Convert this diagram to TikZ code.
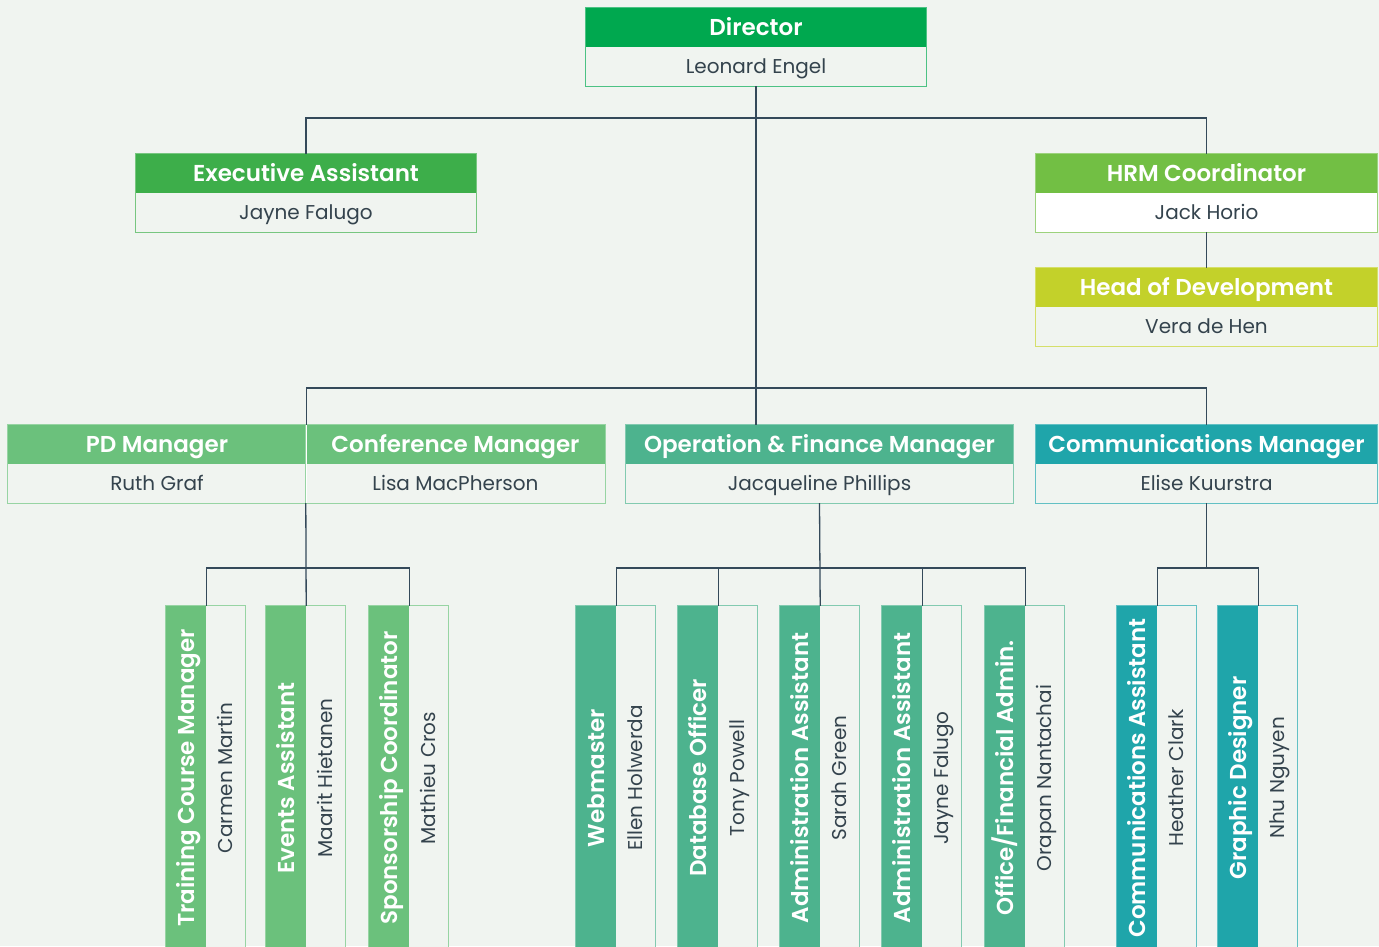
\documentclass[tikz,border=0pt]{standalone}
\usepackage{fontspec}
\setmainfont{Poppins}[BoldFont={Poppins SemiBold}]
\definecolor{bg}{HTML}{F0F4F0}
\definecolor{cdir}{HTML}{00A84F}
\definecolor{cexe}{HTML}{3DAE4A}
\definecolor{chrm}{HTML}{72BF44}
\definecolor{chod}{HTML}{C3D12A}
\definecolor{cpd}{HTML}{6BC17C}
\definecolor{cop}{HTML}{4DB38E}
\definecolor{ccom}{HTML}{1FA5AA}
\definecolor{linec}{HTML}{34495A}
\definecolor{nametext}{HTML}{34434D}
\tikzset{
  hdr/.style={inner sep=0pt, text=white, font=\bfseries\fontsize{23}{23}\selectfont, text height=16pt, text depth=0pt},
  body/.style={inner sep=0pt, text=nametext, font=\fontsize{20}{20}\selectfont, text height=14pt, text depth=0pt},
  conn/.style={draw=linec, line width=1.3pt},
}
\newcommand\orgbox[8]{%
  \node[hdr, fill=#5, minimum width={(#3-#2)*1pt}, minimum height=39pt] (#1H) at ({(#2+#3)/2},{#4+19.5}) {#6};
  \node[body, fill=#8, minimum width={(#3-#2)*1pt}, minimum height=39pt] (#1B) at ({(#2+#3)/2},{#4+58.5}) {#7};
  \draw[#5!70!white, line width=1.3pt] (#1H.north west) rectangle (#1B.south east);
}
\newcommand\vertbox[5]{%
  \node[hdr, fill=#3, rotate=90, minimum width=344pt, minimum height=40pt] (#1T) at ({#2+20},778) {#4};
  \node[body, fill=bg, rotate=90, minimum width=344pt, minimum height=39pt] (#1N) at ({#2+59.5},778) {#5};
  \draw[#3!70!white, line width=1.3pt] (#1T.north east) rectangle (#1N.south west);
}
\begin{document}
\begin{tikzpicture}[x=1pt,y=-1pt]
\useasboundingbox (0,0) rectangle (1379,946);
\fill[bg] (0,0) rectangle (1379,946);
\clip (0,0) rectangle (1379,946);
% top level
\orgbox{dir}{586}{926}{8}{cdir}{Director}{Leonard Engel}{bg}
\orgbox{ex}{136}{476}{154}{cexe}{Executive Assistant}{Jayne Falugo}{bg}
\orgbox{hr}{1036}{1377}{154}{chrm}{HRM Coordinator}{Jack Horio}{white}
\orgbox{hd}{1036}{1377}{268}{chod}{Head of Development}{Vera de Hen}{bg}
% managers
\orgbox{pd}{8}{306}{425}{cpd}{PD Manager}{Ruth Graf}{bg}
\orgbox{cf}{306}{605}{425}{cpd}{Conference Manager}{Lisa MacPherson}{bg}
\draw[white, line width=1pt] (pdH.north east) -- (pdB.south east);
\orgbox{op}{626}{1013}{425}{cop}{Operation \& Finance Manager}{Jacqueline Phillips}{bg}
\orgbox{cm}{1036}{1377}{425}{ccom}{Communications Manager}{Elise Kuurstra}{bg}
% staff
\vertbox{tc}{166}{cpd}{Training Course Manager}{Carmen Martin}
\vertbox{ev}{266}{cpd}{Events Assistant}{Maarit Hietanen}
\vertbox{sp}{369}{cpd}{Sponsorship Coordinator}{Mathieu Cros}
\vertbox{wm}{576}{cop}{Webmaster}{Ellen Holwerda}
\vertbox{db}{678}{cop}{Database Officer}{Tony Powell}
\vertbox{aa}{780}{cop}{Administration Assistant}{Sarah Green}
\vertbox{ab}{882}{cop}{Administration Assistant}{Jayne Falugo}
\vertbox{of}{985}{cop}{Office/Financial Admin.}{Orapan Nantachai}
\vertbox{ca}{1117}{ccom}{Communications Assistant}{Heather Clark}
\vertbox{gd}{1218}{ccom}{Graphic Designer}{Nhu Nguyen}
% connectors
\coordinate (b1) at (756,118);
\coordinate (b2) at (756,388);
\coordinate (b3) at (306,568);
\coordinate (b4) at (820,568);
\coordinate (b5) at (1207,568);
\draw[conn] (dirB.south) -- (dirB.south |- opH.north);
\draw[conn] (exH.north) |- (b1) -| (hrH.north);
\draw[conn] (hrB.south) -- (hdH.north);
\draw[conn] (pdH.north east) |- (b2) -| (cmH.north);
\draw[conn] (cfB.south west) -- (evT.south east);
\draw[conn] (tcT.south east) |- (b3) -| (spT.south east);
\draw[conn] (opB.south) -- (aaT.south east);
\draw[conn] (wmT.south east) |- (b4) -| (ofT.south east);
\draw[conn] (dbT.south east) -- (dbT.south east |- b4);
\draw[conn] (abT.south east) -- (abT.south east |- b4);
\draw[conn] (cmB.south) -- (cmB.south |- b5);
\draw[conn] (caT.south east) |- (b5) -| (gdT.south east);
\end{tikzpicture}
\end{document}
